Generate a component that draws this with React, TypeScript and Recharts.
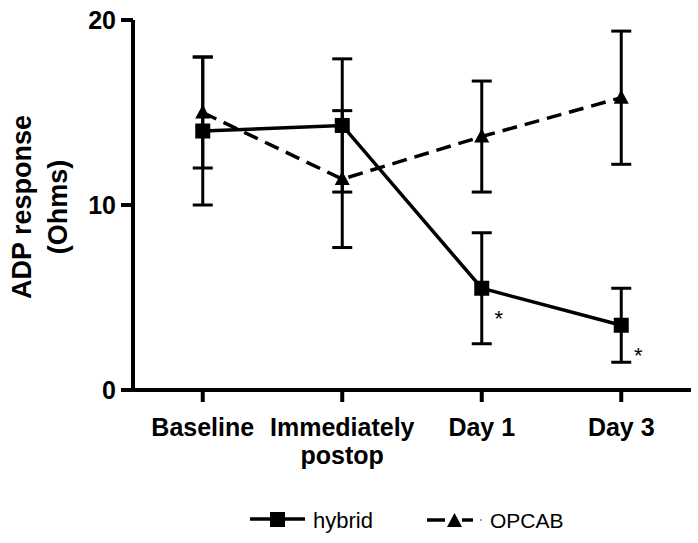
import React from "react";
import { LineChart, Line, XAxis, YAxis, ErrorBar, LabelList } from "recharts";

const categories = ["Baseline", "Immediately\npostop", "Day 1", "Day 3"];
const hybridMean = [14, 14.3, 5.5, 3.5];
const hybridErr = [4, 3.6, 3.0, 2.0];
const opcabMean = [15, 11.4, 13.7, 15.8];
const opcabErr = [3, 3.7, 3.0, 3.6];
const hybridSig = ["", "", "*", "*"];
const yTicks = [0, 10, 20];

const data = categories.map((c, i) => ({
  name: c,
  hybrid: hybridMean[i],
  hybridErr: hybridErr[i],
  opcab: opcabMean[i],
  opcabErr: opcabErr[i],
  sig: hybridSig[i],
}));

const FONT = "'Liberation Sans', Arial, Helvetica, sans-serif";

const SquareDot = (props: any) => {
  const { cx, cy } = props;
  if (cx == null || cy == null) return null;
  return <rect x={cx - 7.5} y={cy - 7.5} width={15} height={15} fill="#000" />;
};

const TriangleDot = (props: any) => {
  const { cx, cy } = props;
  if (cx == null || cy == null) return null;
  return (
    <polygon
      points={`${cx - 7.5},${cy + 6} ${cx + 7.5},${cy + 6} ${cx},${cy - 8}`}
      fill="#000"
    />
  );
};

const XTick = (props: any) => {
  const { x, y, payload } = props;
  const lines = String(payload.value).split("\n");
  return (
    <text
      x={x}
      y={y}
      textAnchor="middle"
      fontFamily={FONT}
      fontWeight="bold"
      fontSize={25}
      fill="#000"
    >
      {lines.map((l, i) => (
        <tspan key={i} x={x} dy={i === 0 ? "0.71em" : 28}>
          {l}
        </tspan>
      ))}
    </text>
  );
};

const YLabel = (props: any) => {
  const vb = props.viewBox || { x: 0, y: 20, width: 133, height: 370 };
  const cy = vb.y + vb.height / 2 + 2;
  const x1 = vb.x + 31;
  const x2 = vb.x + 67;
  return (
    <g fontFamily={FONT} fontWeight="bold" fontSize={27} fill="#000">
      <text x={x1} y={cy} textAnchor="middle" transform={`rotate(-90 ${x1} ${cy})`}>
        ADP response
      </text>
      <text x={x2} y={cy} textAnchor="middle" transform={`rotate(-90 ${x2} ${cy})`}>
        (Ohms)
      </text>
    </g>
  );
};

const Star = (props: any) => {
  const { x, y, value } = props;
  if (!value) return null;
  return (
    <text
      x={x + 17}
      y={y + 38}
      textAnchor="middle"
      fontFamily={FONT}
      fontSize={22}
      fill="#000"
    >
      {value}
    </text>
  );
};

const LegendBlock = () => (
  <g fontFamily={FONT} fill="#000">
    <line x1={250} y1={519} x2={305} y2={519} stroke="#000" strokeWidth={3.5} />
    <rect x={270} y={512} width={15} height={15} fill="#000" />
    <text x={313} y={528} fontSize={22}>hybrid</text>
    <line x1={427} y1={520} x2={445} y2={520} stroke="#000" strokeWidth={3.5} />
    <polygon points="447,527 462,527 454.5,513" fill="#000" />
    <line x1={462} y1={520} x2={473} y2={520} stroke="#000" strokeWidth={3.5} />
    <circle cx={481} cy={520} r={1} fill="#888" />
    <text x={490} y={528} fontSize={21}>OPCAB</text>
  </g>
);

export default function App() {
  return (
    <div style={{ position: "absolute", left: 0, top: 0, background: "#fff" }}>
      <LineChart
        width={698}
        height={543}
        data={data}
        margin={{ top: 20, right: 7, left: 0, bottom: 0 }}
      >
        <XAxis
          dataKey="name"
          height={153}
          padding={{ left: 69.75, right: 69.75 }}
          axisLine={{ stroke: "#000", strokeWidth: 4 }}
          tickLine={{ stroke: "#000", strokeWidth: 4 }}
          tickSize={12}
          tickMargin={16}
          tick={<XTick />}
          interval={0}
        />
        <YAxis
          width={133}
          domain={[0, 20]}
          ticks={yTicks}
          axisLine={{ stroke: "#000", strokeWidth: 4 }}
          tickLine={{ stroke: "#000", strokeWidth: 4 }}
          tickSize={12}
          tickMargin={5}
          tick={{ fontFamily: FONT, fontWeight: "bold", fontSize: 25, fill: "#000" }}
          label={{ content: <YLabel /> }}
        />
        <Line
          dataKey="opcab"
          stroke="#000"
          strokeWidth={3.5}
          strokeDasharray="15 8"
          dot={<TriangleDot />}
          activeDot={false}
          isAnimationActive={false}
        >
          <ErrorBar dataKey="opcabErr" width={10} strokeWidth={3} stroke="#000" direction="y" />
        </Line>
        <Line
          dataKey="hybrid"
          stroke="#000"
          strokeWidth={3.5}
          dot={<SquareDot />}
          activeDot={false}
          isAnimationActive={false}
        >
          <ErrorBar dataKey="hybridErr" width={10} strokeWidth={3} stroke="#000" direction="y" />
          <LabelList dataKey="sig" content={<Star />} />
        </Line>
        <LegendBlock />
      </LineChart>
    </div>
  );
}
